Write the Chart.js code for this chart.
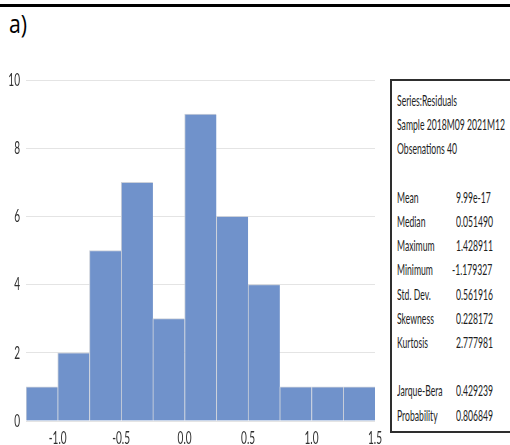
<!DOCTYPE html>
<html>
<head>
<meta charset="utf-8">
<script src="https://cdn.jsdelivr.net/npm/chart.js@4.4.1/dist/chart.umd.min.js"></script>
<style>
  html, body { margin:0; padding:0; background:#fff; }
  body { width:510px; height:445px; overflow:hidden; position:relative; }
  #topline { position:absolute; left:0; top:4px; width:510px; height:3px; background:#000; }
  #panel { position:absolute; left:9px; top:6px; font:25px 'Open Sans', sans-serif; color:#000;
           transform:scaleX(0.85); transform-origin:left top; line-height:34px; }
  #c { position:absolute; left:0; top:0; }
  #stats { position:absolute; left:390px; top:79px; width:200px; height:350px;
           border:2px solid #2e2e2e; background:#fff; }
  .row { position:absolute; left:0; height:24px; width:200px; }
  .row span { position:absolute; top:0; white-space:nowrap; font:15px Lato, sans-serif; color:#1e1e1e;
              transform-origin:left center; line-height:24px; }
</style>
</head>
<body>
<div id="topline"></div>
<div id="panel">a)</div>
<canvas id="c" width="510" height="445"></canvas>
<div id="stats"></div>
<script>
// ---- data ----
const binCenters = [-1.125, -0.875, -0.625, -0.375, -0.125, 0.125, 0.375, 0.625, 0.875, 1.125, 1.375];
const counts     = [1, 2, 5, 7, 3, 9, 6, 4, 1, 1, 1];
const xTickValues = [-1.0, -0.5, 0.0, 0.5, 1.0, 1.5];
const yTickValues = [0, 2, 4, 6, 8, 10];
const statHeader = ['Series:Residuals', 'Sample 2018M09 2021M12', 'Obsenations 40'];
const statLabels = ['Mean', 'Median', 'Maximum', 'Minimum', 'Std. Dev.', 'Skewness', 'Kurtosis'];
const statValues = ['9.99e-17', '0.051490', '1.428911', '-1.179327', '0.561916', '0.228172', '2.777981'];
const testLabels = ['Jarque-Bera', 'Probability'];
const testValues = ['0.429239', '0.806849'];

// ---- condensed tick labels via a custom scale (labels positioned by the library) ----
const LABEL_CONDENSE = 0.56;
class CondensedLinearScale extends Chart.LinearScale {
  drawLabels(chartArea) {
    if (!this.options.ticks.display) return;
    const ctx = this.ctx;
    const items = this.getLabelItems(chartArea);
    for (const item of items) {
      const o = item.options;
      ctx.save();
      ctx.translate(o.translation[0], o.translation[1]);
      ctx.scale(LABEL_CONDENSE, 1);
      ctx.font = item.font.string;
      ctx.fillStyle = o.color;
      ctx.textAlign = o.textAlign;
      ctx.textBaseline = o.textBaseline;
      const lines = Array.isArray(item.label) ? item.label : [item.label];
      let y = item.textOffset;
      for (const line of lines) { ctx.fillText(line, 0, y); y += item.font.lineHeight; }
      ctx.restore();
    }
  }
}
CondensedLinearScale.id = 'condensedLinear';
CondensedLinearScale.defaults = Chart.LinearScale.defaults;
Chart.register(CondensedLinearScale);

const tickFont = { family: 'Lato, sans-serif', size: 18 };

new Chart(document.getElementById('c'), {
  type: 'bar',
  data: {
    datasets: [{
      data: binCenters.map((x, i) => ({ x: x, y: counts[i] })),
      backgroundColor: '#7092cb',
      borderColor: '#ccd1da',
      borderWidth: { top: 1, left: 1, right: 0, bottom: 0 },
      borderSkipped: false,
      barPercentage: 1.0,
      categoryPercentage: 1.0
    }]
  },
  options: {
    responsive: false,
    animation: false,
    devicePixelRatio: 1,
    layout: { padding: { top: 80, right: 135, left: 0, bottom: 0 } },
    plugins: { legend: { display: false }, tooltip: { enabled: false } },
    scales: {
      x: {
        type: 'condensedLinear',
        min: -1.25, max: 1.5,
        offset: false,
        grid: { display: false, drawTicks: false },
        border: { display: false },
        ticks: { font: tickFont, color: '#2e2e2e', padding: 6, maxRotation: 0,
                 callback: v => Number(v).toFixed(1) },
        afterBuildTicks: s => { s.ticks = xTickValues.map(v => ({ value: v })); },
        afterFit: s => { s.height = 24; }
      },
      y: {
        type: 'condensedLinear',
        min: 0, max: 10,
        grid: { color: '#e4e4e4', lineWidth: 1, drawTicks: false },
        border: { display: false },
        ticks: { font: tickFont, color: '#2e2e2e', padding: 6,
                 callback: v => String(v) },
        afterBuildTicks: s => { s.ticks = yTickValues.map(v => ({ value: v })); },
        afterFit: s => { s.width = 26; }
      }
    }
  }
});

// ---- statistics box ----
(function buildStats() {
  const box = document.getElementById('stats');
  const mctx = document.createElement('canvas').getContext('2d');
  mctx.font = '15px Lato, sans-serif';
  const k = 108 / mctx.measureText('Sample 2018M09 2021M12').width;
  const LINE = 24.2, FIRST = 7;
  const rows = [];
  statHeader.forEach(t => rows.push([t, null]));
  rows.push(null);
  statLabels.forEach((t, i) => rows.push([t, statValues[i]]));
  rows.push(null);
  testLabels.forEach((t, i) => rows.push([t, testValues[i]]));
  rows.forEach((r, idx) => {
    if (!r) return;
    const row = document.createElement('div');
    row.className = 'row';
    row.style.top = (FIRST + idx * LINE) + 'px';
    const a = document.createElement('span');
    a.textContent = r[0];
    a.style.left = '5px';
    a.style.transform = 'scaleX(' + k + ')';
    row.appendChild(a);
    if (r[1] !== null) {
      const b = document.createElement('span');
      b.textContent = r[1];
      b.style.left = (r[1].charAt(0) === '-' ? 60 : 64) + 'px';
      b.style.transform = 'scaleX(' + k + ')';
      row.appendChild(b);
    }
    box.appendChild(row);
  });
})();
</script>
</body>
</html>
